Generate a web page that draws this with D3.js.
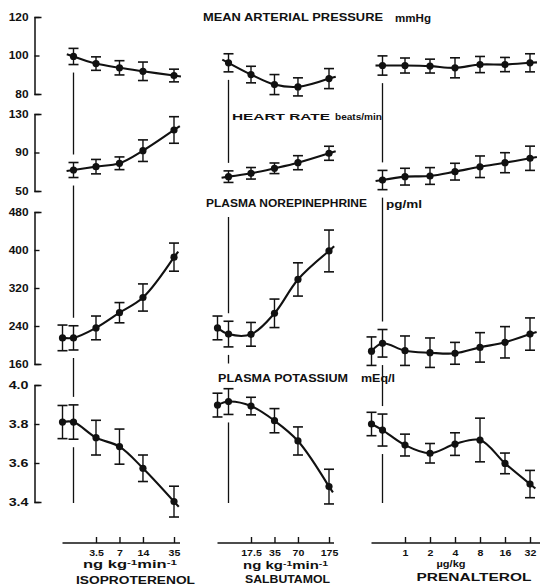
<!DOCTYPE html>
<html><head><meta charset="utf-8">
<script src="https://cdn.jsdelivr.net/npm/d3@7"></script>
<style>
body{margin:0;background:#fff}
svg{display:block}
text{font-family:"Liberation Sans",Arial,sans-serif;font-weight:bold;fill:#111}
</style>
</head><body><svg id="c" width="540" height="586"></svg>
<script>
// ---------- DATA ----------
const isoDoses=[3.5,7,14,35];
const salbDoses=[17.5,35,70,175];
const prenDoses=[1,2,4,8,16,32];
const isoDoseLabels=["3.5","7","14","35"];
const salbDoseLabels=["17.5","35","70","175"];
const prenDoseLabels=["1","2","4","8","16","32"];

// top panels: infusion start ("0") then doses; lower panels: control ("C"), start ("0"), doses
const mapIso=[99.5,95.8,93.6,91.8,89.6];
const mapIsoSem=[4.2,3.5,3.7,4.8,3.3];
const mapSalb=[96.2,90.1,84.9,83.7,88.0];
const mapSalbSem=[4.7,4.3,5.2,4.7,5.2];
const mapPren=[94.8,94.8,94.5,93.6,95.3,95.3,96.2];
const mapPrenSem=[5.0,3.9,3.6,5.2,4.2,3.7,4.7];

const hrIso=[71.8,75.3,78.8,91.9,113.4];
const hrIsoSem=[7.8,7.5,6.6,11.2,13.8];
const hrSalb=[64.9,68.4,73.6,79.4,89.2];
const hrSalbSem=[6.0,6.0,5.5,7.3,7.3];
const hrPren=[61.4,64.9,65.6,70.1,75.2,79.4,84.0];
const hrPrenSem=[10.0,8.7,8.7,8.7,11.2,10.4,12.6];

const neIso=[215,215,236,268,300,385];
const neIsoSem=[27,25.5,25,21.3,28.6,29.6];
const neSalb=[236,223,222.5,266.7,338,398];
const neSalbSem=[25,27,25,30,35,44];
const nePren=[187,203.6,188,183.8,182.5,195,205.7,223];
const nePrenSem=[30,29,31,31,23,31,33,34];

const kIso=[3.81,3.81,3.73,3.684,3.573,3.402];
const kIsoSem=[0.085,0.088,0.089,0.09,0.068,0.079];
const kSalb=[3.897,3.915,3.892,3.817,3.713,3.479];
const kSalbSem=[0.061,0.066,0.045,0.062,0.072,0.089];
const kPren=[3.80,3.769,3.692,3.65,3.697,3.718,3.598,3.492];
const kPrenSem=[0.06,0.082,0.056,0.05,0.058,0.112,0.053,0.07];

const mapTicks=[80,100,120], hrTicks=[50,90,130], neTicks=[160,240,320,400,480], kTicks=[3.4,3.6,3.8,4.0];

// ---------- LAYOUT ----------
const svg=d3.select("#c");
const ink="#111";
const drugs=[
 {name:"ISOPROTERENOL",doses:isoDoses,labels:isoDoseLabels,unit:"ng",px:[96,174],axisEnd:180,unitX:130,unitW:94,unitY:568,titleX:135.5,titleW:119,titleY:584},
 {name:"SALBUTAMOL",doses:salbDoses,labels:salbDoseLabels,unit:"ng",px:[251,329],axisEnd:334,unitX:285.6,unitW:85,unitY:569,titleX:287.5,titleW:85,titleY:583},
 {name:"PRENALTEROL",doses:prenDoses,labels:prenDoseLabels,unit:"ug",px:[405,530],axisEnd:540,unitX:451,unitW:29,unitY:567,titleX:474,titleW:115,titleY:580.5}
];
drugs.forEach(d=>{
  d.xs=d3.scaleLog().domain([d.doses[0],d.doses[d.doses.length-1]]).range(d.px);
  d.xpos=k=>k==="C"?d.xs(d.doses[0])-33.5:(k==="0"?d.xs(d.doses[0])-22.5:d.xs(k));
});
const panels=[
 {dom:[80,120],rng:[94,17],ticks:mapTicks,fmt:d3.format("d"),control:false,series:[[mapIso,mapIsoSem],[mapSalb,mapSalbSem],[mapPren,mapPrenSem]]},
 {dom:[50,130],rng:[191,114],ticks:hrTicks,fmt:d3.format("d"),control:false,series:[[hrIso,hrIsoSem],[hrSalb,hrSalbSem],[hrPren,hrPrenSem]]},
 {dom:[160,480],rng:[364,212],ticks:neTicks,fmt:d3.format("d"),control:true,series:[[neIso,neIsoSem],[neSalb,neSalbSem],[nePren,nePrenSem]]},
 {dom:[3.4,4.0],rng:[502,385],ticks:kTicks,fmt:d3.format(".1f"),control:true,series:[[kIso,kIsoSem],[kSalb,kSalbSem],[kPren,kPrenSem]]}
];
panels.forEach(p=>p.y=d3.scaleLinear().domain(p.dom).range(p.rng));

// ---------- Y AXES ----------
panels.forEach(p=>{
  const ax=d3.axisLeft(p.y).tickValues(p.ticks).tickFormat(p.fmt).tickSizeInner(-5).tickSizeOuter(-7).tickPadding(6);
  const g=svg.append("g").attr("transform","translate(34.5,0)").call(ax);
  g.select(".domain").attr("stroke",ink).attr("stroke-width",1.5);
  g.selectAll(".tick line").attr("stroke",ink).attr("stroke-width",1.4);
  g.selectAll(".tick text").attr("font-size",10).attr("fill",ink)
    .style("font-family","'Liberation Sans',Arial,sans-serif").style("font-weight","bold")
    .attr("textLength",function(){return this.textContent.length*6.6;}).attr("lengthAdjust","spacingAndGlyphs");
});

// ---------- TITLES ----------
function label(x,y,txt,fs,w,anchor){
  return svg.append("text").attr("x",x).attr("y",y).attr("font-size",fs)
    .attr("text-anchor",anchor||"start").attr("textLength",w).attr("lengthAdjust","spacingAndGlyphs").text(txt);
}
label(203,21,"MEAN ARTERIAL PRESSURE",10.5,180);
label(395,21.5,"mmHg",10,36);
label(232,120,"HEART RATE",9.6,98);
label(335,120,"beats/min",9.3,47);
const neTitle=label(206,207,"PLASMA NOREPINEPHRINE",10.5,161);
label(386,207.5,"pg/ml",10,36);
const kTitle=label(218,381.5,"PLASMA POTASSIUM",10.5,130);
label(361,381.5,"mEq/l",10,34);

// ---------- DATA MARKS ----------
const line=d3.line().curve(d3.curveCatmullRom.alpha(0.5));
panels.forEach(p=>{
  drugs.forEach((d,i)=>{
    const [m,s]=p.series[i];
    const keys=(p.control?["C","0"]:["0"]).concat(d.doses);
    const pts=keys.map((k,j)=>({x:d.xpos(k),y:p.y(m[j]),lo:p.y(m[j]-s[j]),hi:p.y(m[j]+s[j])}));
    const xy=pts.map(q=>[q.x,q.y]);
    const g=svg.append("g");
    g.append("path").attr("d",line(xy)).attr("fill","none").attr("stroke",ink).attr("stroke-width",2.1);
    const ext=(a,b,len)=>{const dx=b[0]-a[0],dy=b[1]-a[1],L=Math.hypot(dx,dy);return [b[0]+dx/L*len,b[1]+dy/L*len];};
    const n=xy.length;
    const e1=ext(xy[n-2],xy[n-1],7);
    g.append("line").attr("x1",xy[n-1][0]).attr("y1",xy[n-1][1]).attr("x2",e1[0]).attr("y2",e1[1]).attr("stroke",ink).attr("stroke-width",2.1);
    if(!p.control){
      const e0=ext(xy[1],xy[0],7);
      g.append("line").attr("x1",xy[0][0]).attr("y1",xy[0][1]).attr("x2",e0[0]).attr("y2",e0[1]).attr("stroke",ink).attr("stroke-width",2.1);
    }
    pts.forEach(q=>{
      g.append("line").attr("x1",q.x).attr("x2",q.x).attr("y1",q.lo).attr("y2",q.hi).attr("stroke",ink).attr("stroke-width",1.4);
      [q.lo,q.hi].forEach(yy=>g.append("line").attr("x1",q.x-5).attr("x2",q.x+5).attr("y1",yy).attr("y2",yy).attr("stroke",ink).attr("stroke-width",1.6));
      g.append("circle").attr("cx",q.x).attr("cy",q.y).attr("r",3.6).attr("fill",ink);
    });
    d["obs"+panels.indexOf(p)]=pts[keys.indexOf("0")];
  });
});

// ---------- INFUSION-START MARKER LINES ----------
const titleBoxes=[neTitle.node().getBBox(),kTitle.node().getBBox()];
const gap=8, bottomY=panels[3].y(3.4)+1;
drugs.forEach(d=>{
  const x=d.xpos("0");
  let obs=[0,1,2,3].map(i=>[d["obs"+i].hi,d["obs"+i].lo]);
  titleBoxes.forEach(b=>{ if(x>=b.x && x<=b.x+b.width) obs.push([b.y,b.y+b.height]); });
  obs.sort((a,b)=>a[0]-b[0]);
  let cur=obs[0][1];
  const segs=[];
  obs.slice(1).forEach(o=>{ if(o[0]-gap-(cur+gap)>3) segs.push([cur+gap,o[0]-gap]); cur=Math.max(cur,o[1]); });
  if(bottomY-(cur+gap)>3) segs.push([cur+gap,bottomY]);
  segs.forEach(s=>svg.append("line").attr("x1",x).attr("x2",x).attr("y1",s[0]).attr("y2",s[1]).attr("stroke",ink).attr("stroke-width",1.3));
});

// ---------- X AXES ----------
const axisY=543;
drugs.forEach(d=>{
  svg.append("line").attr("x1",d.xpos("C")).attr("x2",d.axisEnd).attr("y1",axisY).attr("y2",axisY).attr("stroke",ink).attr("stroke-width",1.4);
  const ax=d3.axisBottom(d.xs).tickValues(d.doses).tickFormat((v,i)=>d.labels[i]).tickSizeInner(-6).tickSizeOuter(0).tickPadding(6);
  const g=svg.append("g").attr("transform",`translate(0,${axisY})`).call(ax);
  g.select(".domain").remove();
  g.selectAll(".tick line").attr("stroke",ink).attr("stroke-width",1.4);
  g.selectAll(".tick text").attr("font-size",9.4).attr("fill",ink)
    .style("font-family","'Liberation Sans',Arial,sans-serif").style("font-weight","bold")
    .attr("textLength",function(){const t=this.textContent;return t.length*5.9-(t.includes(".")?3:0);}).attr("lengthAdjust","spacingAndGlyphs");
  const u=svg.append("text").attr("x",d.unitX).attr("y",d.unitY).attr("text-anchor","middle").attr("font-size",d.unit==="ng"?10:9.6)
    .attr("textLength",d.unitW).attr("lengthAdjust","spacingAndGlyphs");
  if(d.unit==="ng"){
    u.append("tspan").text("ng kg");
    u.append("tspan").attr("dy",-3.2).attr("font-size",7).text("-1");
    u.append("tspan").attr("dy",3.2).text("min");
    u.append("tspan").attr("dy",-3.2).attr("font-size",7).text("-1");
  } else {
    u.text("\u00B5g/kg");
  }
  label(d.titleX,d.titleY,d.name,10.5,d.titleW,"middle");
});
</script>
</body></html>
